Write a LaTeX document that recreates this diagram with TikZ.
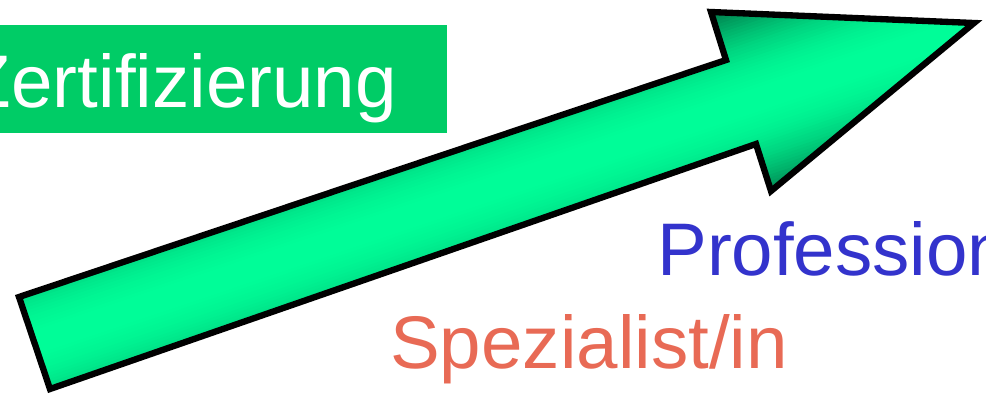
\documentclass[tikz,border=0pt]{standalone}
\usepackage{fontspec}
\setmainfont{Liberation Sans}
\usetikzlibrary{calc}
\definecolor{boxgreen}{RGB}{0,204,102}
\definecolor{arrowlight}{RGB}{0,255,153}
\definecolor{arrowdark}{RGB}{0,100,60}
\definecolor{profblue}{RGB}{51,51,204}
\definecolor{specred}{RGB}{232,106,85}
\tikzset{
  bigtext/.style={font=\fontsize{53}{60}\selectfont, inner sep=0pt},
  arrowline/.style={line width=4.5pt, line join=miter}
}
\begin{document}
\begin{tikzpicture}[x=0.025cm,y=-0.025cm]
  \useasboundingbox (0,0) rectangle (986,395);
  % label box
  \fill[boxgreen] (-10,25) rectangle (447,133);
  \node[bigtext, text=white, anchor=base east] (zert) at (397,107) {Zertifizierung};
  % arrow corners
  \coordinate (tl) at (19,297);
  \coordinate (nt) at (726,60);
  \coordinate (bt) at (711,12);
  \coordinate (tip) at (974,23);
  \coordinate (bb) at (771,191);
  \coordinate (nb) at (756,144);
  \coordinate (bl) at (50,389);
  \coordinate (c) at (34,343);
  \begin{scope}
    \clip (tl) -- (nt) -- (bt) -- (tip) -- (bb) -- (nb) -- (bl) -- cycle;
    \fill[arrowdark] (0,0) rectangle (986,395);
    % strips parallel to the shaft, bright in the middle
    \foreach \d in {-105,-102,...,102}{
      \pgfmathtruncatemacro\p{100-((\d+1.5)/105)^2*100}
      \fill[arrowlight!\p!arrowdark]
        ($(c)+({0.319*\d-56.9},{0.948*\d+19.1})$) --
        ($(c)+({0.319*\d+1042.8},{0.948*\d-350.9})$) --
        ($(c)+({0.319*(\d+4)+1042.8},{0.948*(\d+4)-350.9})$) --
        ($(c)+({0.319*(\d+4)-56.9},{0.948*(\d+4)+19.1})$) -- cycle;
    }
  \end{scope}
  \draw[arrowline] (tl) -- (nt) -- (bt) -- (tip) -- (bb) -- (nb) -- (bl) -- cycle;
  % levels
  \node[bigtext, text=profblue, anchor=base west] (prof) at (657,275) {Profession};
  \node[bigtext, text=specred, anchor=base west] (spez) at (390,368) {Spezialist/in};
\end{tikzpicture}
\end{document}
